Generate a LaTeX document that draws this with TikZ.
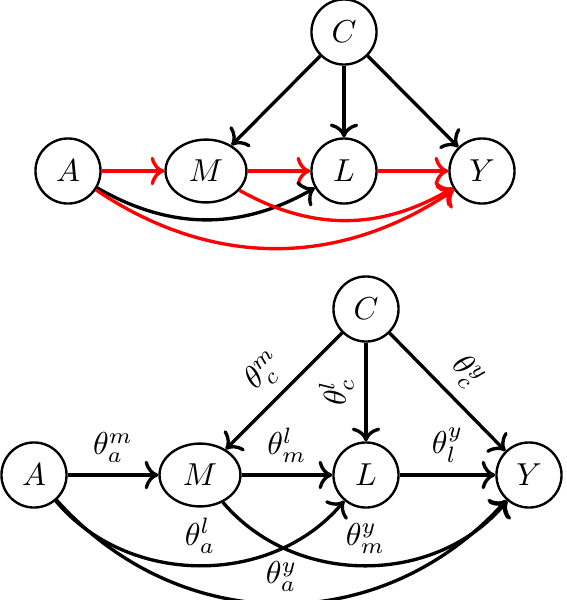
\documentclass[tikz,border=0pt]{standalone}
\usetikzlibrary{shapes.geometric,arrows.meta}
\begin{document}
\begin{tikzpicture}[x=0.315pt, y=-0.315pt,
  vnode/.style={circle, draw, line width=0.75pt, minimum size=20.5pt, inner sep=0pt},
  enode/.style={ellipse, draw, line width=0.75pt, minimum width=25.5pt, minimum height=19.8pt, inner sep=0pt},
  arr/.style={-{To[scale=1.1]}, line width=1.05pt},
  redarr/.style={arr, red}]
\useasboundingbox (0,0) rectangle (567,600);
% top diagram
\node[vnode] (tC) at (344,32) {$C$};
\node[vnode] (tA) at (68,171) {$A$};
\node[enode] (tM) at (206,171) {$M$};
\node[vnode] (tL) at (344,171) {$L$};
\node[vnode] (tY) at (482,171) {$Y$};
\draw[arr] (tC) -- (tM);
\draw[arr] (tC) -- (tL);
\draw[arr] (tC) -- (tY);
\draw[redarr] (tA) -- (tM);
\draw[redarr] (tM) -- (tL);
\draw[redarr] (tL) -- (tY);
\draw[arr] (tA) to[bend right=30] (tL);
\draw[redarr] (tM) to[bend right=30] (tY);
\draw[redarr] (tA) to[bend right=34] (tY);
% bottom diagram
\node[vnode] (C) at (366,309) {$C$};
\node[vnode] (A) at (34,475) {$A$};
\node[enode] (M) at (200,475) {$M$};
\node[vnode] (L) at (366,475) {$L$};
\node[vnode] (Y) at (529,475) {$Y$};
\draw[arr] (C) -- node[midway, sloped, above] (lcm) {$\theta^m_c$} (M);
\draw[arr] (C) -- node[midway, rotate=90, anchor=south] (lcl) {$\theta^l_c$} (L);
\draw[arr] (C) -- node[midway, sloped, above] (lcy) {$\theta^y_c$} (Y);
\draw[arr] (A) -- node[midway, above] (lam) {$\theta^m_a$} (M);
\draw[arr] (M) -- node[midway, above] (lml) {$\theta^l_m$} (L);
\draw[arr] (L) -- node[midway, above] (lly) {$\theta^y_l$} (Y);
\draw[arr] (A) to[bend right=50] node[midway, above] (lal) {$\theta^l_a$} (L);
\draw[arr] (M) to[bend right=50] node[midway, above] (lmy) {$\theta^y_m$} (Y);
\draw[arr] (A) to[bend right=48, looseness=1.06] node[midway, above] (lay) {$\theta^y_a$} (Y);
\end{tikzpicture}
\end{document}
